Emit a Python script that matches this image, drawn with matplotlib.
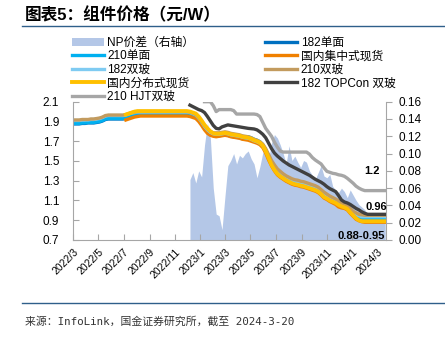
import numpy as np
import pandas as pd
import matplotlib
matplotlib.use('Agg')
import matplotlib.pyplot as plt
from matplotlib.patches import Patch
from matplotlib.lines import Line2D

plt.rcParams['font.family'] = ['Liberation Sans', 'Noto Sans CJK SC']

# weekly quotes (Wednesdays), 元/W
dates = pd.date_range('2022-03-02', '2024-03-20', freq='7D')

# 210单面, from 2022-03-02
mono210 = [1.88, 1.88, 1.88, 1.885, 1.885, 1.89, 1.89, 1.89, 1.895, 1.90,
           1.91, 1.925, 1.93, 1.93, 1.93, 1.93, 1.93, 1.93, 1.935, 1.945,
           1.96, 1.97, 1.975, 1.98, 1.98, 1.98, 1.98, 1.98, 1.98, 1.98,
           1.98, 1.98, 1.98, 1.98, 1.98, 1.98, 1.98, 1.98, 1.98, 1.98,
           1.975, 1.965, 1.955, 1.925, 1.885, 1.84, 1.805, 1.78, 1.765, 1.76,
           1.76, 1.765, 1.77, 1.765, 1.755, 1.75, 1.745, 1.74, 1.73, 1.725,
           1.745, 1.735, 1.72, 1.71, 1.695, 1.665, 1.61, 1.545, 1.48, 1.43,
           1.39, 1.365, 1.345, 1.325, 1.31, 1.295, 1.285, 1.28, 1.27, 1.265,
           1.255, 1.245, 1.235, 1.225, 1.21, 1.185, 1.155, 1.14, 1.12, 1.105,
           1.09, 1.07, 1.055, 1.045, 1.03, 1.0, 0.97, 0.945, 0.93, 0.92,
           0.92, 0.92, 0.92, 0.92, 0.92, 0.92, 0.92, 0.92]

# 182单面, from 2022-03-02
mono182 = [1.875, 1.875, 1.875, 1.88, 1.88, 1.885, 1.885, 1.885, 1.89, 1.895,
           1.905, 1.92, 1.925, 1.925, 1.925, 1.925, 1.925, 1.925, 1.93, 1.94,
           1.955, 1.965, 1.97, 1.975, 1.975, 1.975, 1.975, 1.975, 1.975, 1.975,
           1.975, 1.975, 1.975, 1.975, 1.975, 1.975, 1.975, 1.975, 1.975, 1.975,
           1.97, 1.96, 1.95, 1.92, 1.88, 1.835, 1.80, 1.775, 1.76, 1.755,
           1.755, 1.76, 1.765, 1.76, 1.75, 1.745, 1.74, 1.735, 1.725, 1.72,
           1.74, 1.73, 1.715, 1.705, 1.69, 1.66, 1.605, 1.54, 1.475, 1.425,
           1.385, 1.36, 1.34, 1.32, 1.305, 1.29, 1.28, 1.275, 1.265, 1.26,
           1.25, 1.24, 1.23, 1.22, 1.205, 1.18, 1.15, 1.135, 1.115, 1.10,
           1.085, 1.065, 1.05, 1.04, 1.025, 0.995, 0.965, 0.94, 0.925, 0.915,
           0.915, 0.915, 0.915, 0.915, 0.915, 0.915, 0.915, 0.915]

# 182双玻, from 2022-03-02
bif182 = [1.91, 1.91, 1.91, 1.915, 1.915, 1.915, 1.92, 1.92, 1.925, 1.93,
          1.94, 1.955, 1.96, 1.96, 1.96, 1.96, 1.96, 1.96, 1.965, 1.975,
          1.985, 1.99, 1.995, 1.995, 1.995, 1.995, 1.995, 1.995, 1.995, 1.995,
          1.995, 1.995, 1.995, 1.995, 1.995, 1.995, 1.995, 1.995, 1.995, 1.995,
          1.99, 1.98, 1.965, 1.935, 1.895, 1.85, 1.815, 1.79, 1.775, 1.77,
          1.77, 1.775, 1.78, 1.775, 1.765, 1.76, 1.755, 1.75, 1.74, 1.735,
          1.73, 1.72, 1.705, 1.695, 1.68, 1.655, 1.605, 1.545, 1.485, 1.44,
          1.40, 1.375, 1.355, 1.335, 1.32, 1.305, 1.295, 1.29, 1.28, 1.275,
          1.265, 1.255, 1.245, 1.235, 1.22, 1.195, 1.165, 1.15, 1.13, 1.115,
          1.10, 1.08, 1.065, 1.055, 1.04, 1.01, 0.98, 0.96, 0.945, 0.935,
          0.935, 0.935, 0.935, 0.935, 0.935, 0.935, 0.935, 0.935]

# 210双玻, from 2022-03-02
bif210 = [1.915, 1.915, 1.915, 1.92, 1.92, 1.92, 1.925, 1.925, 1.93, 1.935,
          1.945, 1.96, 1.965, 1.965, 1.965, 1.965, 1.965, 1.965, 1.97, 1.98,
          1.99, 1.995, 2.0, 2.0, 2.0, 2.0, 2.0, 2.0, 2.0, 2.0,
          2.0, 2.0, 2.0, 2.0, 2.0, 2.0, 2.0, 2.0, 2.0, 2.0,
          1.995, 1.985, 1.97, 1.94, 1.90, 1.86, 1.825, 1.80, 1.785, 1.785,
          1.785, 1.79, 1.795, 1.79, 1.78, 1.775, 1.77, 1.765, 1.755, 1.75,
          1.745, 1.735, 1.72, 1.71, 1.695, 1.67, 1.625, 1.565, 1.505, 1.46,
          1.42, 1.395, 1.37, 1.35, 1.335, 1.32, 1.31, 1.305, 1.295, 1.29,
          1.28, 1.27, 1.26, 1.25, 1.235, 1.21, 1.185, 1.165, 1.145, 1.13,
          1.115, 1.095, 1.075, 1.065, 1.05, 1.02, 0.99, 0.975, 0.96, 0.955,
          0.95, 0.95, 0.95, 0.95, 0.95, 0.95, 0.95, 0.95]

# 国内集中式现货 / 国内分布式现货, from 2022-07-06
spot_start = '2022-07-06'
central = [1.915, 1.925, 1.935, 1.945, 1.95,
           1.955, 1.955, 1.955, 1.955, 1.955, 1.955, 1.955, 1.955, 1.955,
           1.955, 1.955, 1.955, 1.955, 1.955, 1.955, 1.955, 1.955,
           1.95, 1.94,
           1.93, 1.90, 1.86, 1.815, 1.78, 1.76, 1.75, 1.745,
           1.75, 1.755, 1.76, 1.755, 1.745, 1.74, 1.735, 1.73, 1.72, 1.715,
           1.71, 1.70, 1.69, 1.68, 1.665, 1.635, 1.58, 1.51, 1.45, 1.40,
           1.36, 1.335, 1.315, 1.295, 1.28, 1.265, 1.255, 1.25, 1.24, 1.235,
           1.225, 1.215, 1.205, 1.195, 1.18, 1.155, 1.125, 1.11, 1.09, 1.075,
           1.06, 1.035, 1.025, 1.02, 1.005, 0.97, 0.94, 0.91, 0.895, 0.885,
           0.88, 0.88, 0.88, 0.88, 0.88, 0.88, 0.88, 0.88]
distrib = [1.97, 1.98, 1.99, 2.0, 2.005,
           2.005, 2.005, 2.005, 2.005, 2.005, 2.005, 2.005, 2.005, 2.005,
           2.005, 2.005, 2.005, 2.005, 2.005, 2.005, 2.005, 2.005,
           2.0, 1.99,
           1.98, 1.95, 1.91, 1.865, 1.83, 1.80, 1.78, 1.775,
           1.775, 1.78, 1.785, 1.78, 1.77, 1.765, 1.76, 1.755, 1.745, 1.74,
           1.735, 1.725, 1.71, 1.70, 1.685, 1.655, 1.60, 1.53, 1.46, 1.41,
           1.37, 1.345, 1.325, 1.305, 1.29, 1.275, 1.265, 1.26, 1.25, 1.245,
           1.235, 1.225, 1.215, 1.205, 1.19, 1.165, 1.135, 1.12, 1.10, 1.088,
           1.075, 1.055, 1.04, 1.03, 1.015, 0.98, 0.95, 0.92, 0.90, 0.89,
           0.89, 0.89, 0.89, 0.89, 0.89, 0.89, 0.89, 0.89]

# 182 TOPCon 双玻, from 2022-12-07
topcon_start = '2022-12-07'
topcon = [2.065, 2.05, 2.035, 2.02, 2.01, 1.99, 1.95, 1.905, 1.86, 1.83,
          1.825, 1.845, 1.855, 1.865, 1.86, 1.855, 1.85, 1.845, 1.84, 1.835,
          1.83, 1.827, 1.824, 1.815, 1.795, 1.77, 1.735, 1.68, 1.625, 1.58,
          1.55, 1.525, 1.50, 1.48, 1.46, 1.445, 1.43, 1.415, 1.40, 1.385,
          1.37, 1.355, 1.335, 1.315, 1.30, 1.285, 1.265, 1.24, 1.22, 1.205,
          1.19, 1.15, 1.105, 1.085, 1.075, 1.06, 1.04, 1.02, 1.005, 0.985,
          0.97, 0.96, 0.96, 0.96, 0.96, 0.96, 0.96, 0.96]

# 210 HJT双玻, from 2023-01-11
hjt_start = '2023-01-11'
hjt = [2.10, 2.10, 2.10, 2.06, 2.00,
       2.02, 2.02, 2.02, 2.02, 2.02, 2.01, 1.975, 1.975, 1.975, 1.975,
       1.975, 1.975, 1.975, 1.97, 1.95, 1.89, 1.83, 1.79, 1.75, 1.69,
       1.64, 1.60, 1.59, 1.59, 1.59, 1.59, 1.59, 1.59, 1.59, 1.59,
       1.59, 1.57, 1.535, 1.51, 1.49, 1.47, 1.43, 1.395, 1.385, 1.375,
       1.37, 1.36, 1.355, 1.345, 1.325, 1.30, 1.275, 1.245, 1.225, 1.21,
       1.20, 1.20, 1.20, 1.20, 1.20, 1.20, 1.20, 1.20]

# NP价差 (right axis), from 2022-12-07
np_start = '2022-12-07'
np_spread = [0.070, 0.078, 0.066, 0.080, 0.073, 0.110, 0.135, 0.118, 0.060, 0.030,
             0.028, 0.012, 0.050, 0.086, 0.092, 0.100, 0.088, 0.098, 0.095, 0.100,
             0.103, 0.094, 0.088, 0.072, 0.085, 0.101, 0.107, 0.094, 0.112, 0.122,
             0.118, 0.110, 0.100, 0.088, 0.109, 0.092, 0.097, 0.090, 0.084, 0.092,
             0.090, 0.080, 0.075, 0.070, 0.078, 0.086, 0.074, 0.072, 0.076, 0.062,
             0.058, 0.055, 0.060, 0.056, 0.049, 0.058, 0.052, 0.046, 0.041, 0.038,
             0.035, 0.030, 0.030, 0.030, 0.030, 0.030, 0.030, 0.030]

tick_months = pd.date_range('2022-03-01', '2024-03-01', freq='2MS')
tick_labels = [f'{d.year}/{d.month}' for d in tick_months]


def span(start, values):
    i = dates.get_loc(pd.Timestamp(start))
    return dates[i:i + len(values)], values


fig = plt.figure(figsize=(4.45, 3.37), dpi=100)
ax = fig.add_axes([73 / 445, 1 - 240 / 337, 313 / 445, 138.3 / 337])
ax2 = ax.twinx()
ax.set_zorder(ax2.get_zorder() + 1)
ax.patch.set_visible(False)

x, y = span(np_start, np_spread)
ax2.fill_between(x, 0, y, color='#B4C7E7', lw=0)

lw = 2.4
h182m, = ax.plot(dates, mono182, color='#0070C0', lw=lw)
h210m, = ax.plot(dates, mono210, color='#00B0F0', lw=lw)
h_cen, = ax.plot(*span(spot_start, central), color='#F08000', lw=lw)
h182b, = ax.plot(dates, bif182, color='#7FCBF2', lw=lw)
h210b, = ax.plot(dates, bif210, color='#C39B5E', lw=lw)
h_dis, = ax.plot(*span(spot_start, distrib), color='#FFC000', lw=2.8)
h_top, = ax.plot(*span(topcon_start, topcon), color='#404040', lw=lw)
h_hjt, = ax.plot(*span(hjt_start, hjt), color='#A6A6A6', lw=lw)

ax.set_xlim(pd.Timestamp('2022-03-01'), pd.Timestamp('2024-03-22'))
ax.set_ylim(0.7, 2.1)
ax2.set_ylim(0, 0.16)
ax.set_yticks(np.arange(0.7, 2.11, 0.2))
ax.set_yticklabels([f'{v:.1f}' for v in np.arange(0.7, 2.11, 0.2)])
ax2.set_yticks(np.arange(0, 0.161, 0.02))
ax2.set_yticklabels([f'{v:.2f}' for v in np.arange(0, 0.161, 0.02)])
ax.set_xticks(tick_months)
ax.set_xticklabels(tick_labels, rotation=45, ha='right', va='top',
                   rotation_mode='anchor', fontsize=7.5)

spine_c = '#A6A6A6'
for a in (ax, ax2):
    a.spines['top'].set_visible(False)
    for s in a.spines.values():
        s.set_color(spine_c)
ax.spines['right'].set_visible(False)
ax2.spines['left'].set_visible(False)
ax2.spines['bottom'].set_visible(False)
ax.tick_params(axis='y', direction='in', length=4, pad=10, labelsize=8.5, color=spine_c)
ax.tick_params(axis='x', direction='in', length=4, pad=5, color=spine_c)
ax2.tick_params(axis='y', direction='out', length=4, pad=5, labelsize=8.5, color=spine_c)

# end-of-period price labels
ends = [mono210[-1], mono182[-1], bif182[-1], bif210[-1], central[-1], distrib[-1]]
ax.annotate(f'{hjt[-1]:.1f}', xy=(0.981, 1.395), xycoords=('axes fraction', 'data'),
            ha='right', va='center', fontsize=8, fontweight='bold')
ax.annotate(f'{topcon[-1]:.2f}', xy=(1.002, 1.03), xycoords=('axes fraction', 'data'),
            ha='right', va='center', fontsize=8, fontweight='bold')
ax.annotate(f'{min(ends):.2f}-{max(ends):.2f}', xy=(0.997, 0.743),
            xycoords=('axes fraction', 'data'),
            ha='right', va='center', fontsize=8, fontweight='bold')

np_patch = Patch(facecolor='#B4C7E7', edgecolor='none')
handles = [np_patch, h210m, h182b, h_dis, h_hjt, h182m, h_cen, h210b, h_top]
labels = ['NP价差（右轴）', '210单面', '182双玻', '国内分布式现货', '210 HJT双玻',
          '182单面', '国内集中式现货', '210双玻', '182 TOPCon 双玻']
fig.legend(handles, labels, ncol=2, loc='upper left',
           bbox_to_anchor=(72 / 445, 1 - 37 / 337), frameon=False, fontsize=8.5,
           handlelength=2.7, handletextpad=0.3, labelspacing=0.12,
           columnspacing=6.0, borderpad=0, borderaxespad=0)

fig.text(25 / 445, 1 - 15 / 337, '图表5：组件价格（元/W）', fontsize=12,
         fontweight='bold', ha='left', va='center')
rule_c = '#2F5F8A'
fig.add_artist(Line2D([22 / 445, 1], [1 - 26 / 337] * 2, color=rule_c, lw=1))
fig.add_artist(Line2D([22 / 445, 1], [1 - 302.5 / 337] * 2, color=rule_c, lw=1))
fig.text(25 / 445, 1 - 321 / 337, '来源：InfoLink，国金证券研究所，截至 2024-3-20',
         fontsize=7.8, color='#333333', ha='left', va='center',
         family=['DejaVu Sans Mono', 'Noto Sans CJK SC'])

fig.savefig('out.png', dpi=100)
